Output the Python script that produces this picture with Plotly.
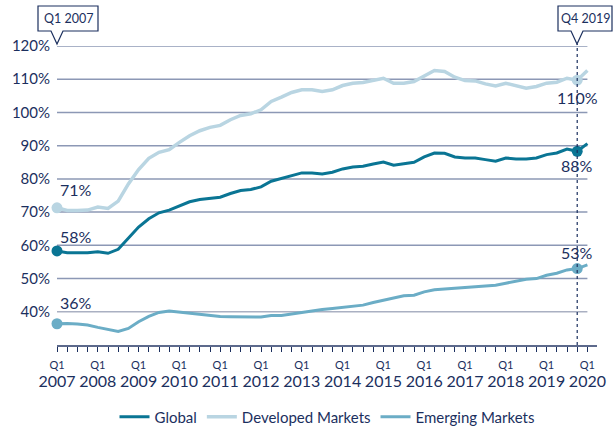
import plotly.graph_objects as go

years = list(range(2007, 2021))
quarters = list(range(53))  # Q1 2007 .. Q1 2020

developed = [71.3, 70.5, 70.5, 70.6, 71.5, 71.1, 73.3, 78.5, 82.8, 86.2,
             88.0, 88.8, 91.0, 93.0, 94.5, 95.5, 96.1, 97.8, 99.1, 99.6,
             100.8, 103.3, 104.6, 106.0, 106.8, 106.8, 106.3, 106.8, 108.1, 108.8,
             109.0, 109.6, 110.3, 108.8, 108.8, 109.3, 111.0, 112.6, 112.3, 110.6,
             109.6, 109.5, 108.6, 108.0, 108.8, 108.0, 107.3, 107.8, 108.8, 109.1,
             110.3, 109.7, 112.6]
global_ = [58.3, 57.8, 57.8, 57.8, 58.1, 57.6, 58.8, 62.2, 65.5, 68.0,
           69.8, 70.6, 71.9, 73.1, 73.8, 74.2, 74.5, 75.6, 76.5, 76.8,
           77.6, 79.3, 80.1, 81.0, 81.8, 81.8, 81.5, 82.0, 83.0, 83.6,
           83.8, 84.5, 85.1, 84.1, 84.6, 85.0, 86.6, 87.8, 87.7, 86.6,
           86.3, 86.3, 85.8, 85.3, 86.3, 86.0, 86.0, 86.3, 87.3, 87.8,
           89.0, 88.3, 90.6]
emerging = [36.4, 36.5, 36.3, 36.0, 35.3, 34.8, 34.1, 35.0, 37.0, 38.6,
            39.8, 40.2, 39.9, 39.6, 39.2, 38.8, 38.6, 38.5, 38.4, 38.4,
            38.4, 38.9, 38.9, 39.3, 39.8, 40.2, 40.7, 41.0, 41.3, 41.7,
            42.0, 42.8, 43.5, 44.0, 44.8, 45.0, 46.0, 46.6, 46.8, 47.1,
            47.4, 47.6, 47.8, 48.0, 48.6, 49.3, 49.8, 50.0, 51.0, 51.6,
            52.6, 53.0, 54.1]
y_ticks = [40, 50, 60, 70, 80, 90, 100, 110, 120]

START, END = 0, 51  # Q1 2007 and Q4 2019 highlight points

NAVY = "#1b2f5e"
C_GLOBAL = "#0a7594"
C_DEV = "#b9d5e2"
C_EM = "#6badc6"
GRID = "#8c98b5"
FONT = "Lato"

fig = go.Figure()
series = [("Global", global_, C_GLOBAL, 3),
          ("Developed Markets", developed, C_DEV, 3.5),
          ("Emerging Markets", emerging, C_EM, 3)]

# gridlines
for v in y_ticks:
    fig.add_shape(type="line", xref="x", yref="y", x0=quarters[0], x1=quarters[-1],
                  y0=v, y1=v, line=dict(color=GRID if v != 40 else "#aab0c2", width=1.5),
                  layer="below")

for name, vals, col, w in series:
    fig.add_trace(go.Scatter(x=quarters, y=vals, mode="lines", name=name,
                             line=dict(color=col, width=w), cliponaxis=False))
    fig.add_trace(go.Scatter(x=[quarters[START], quarters[END]], y=[vals[START], vals[END]],
                             mode="markers", marker=dict(color=col, size=11),
                             showlegend=False, cliponaxis=False, hoverinfo="skip"))

# value labels
label_shift = {"Global": (14, -14), "Developed Markets": (18, -17), "Emerging Markets": (21, 16)}
for name, vals, col, w in series:
    s0, s1 = label_shift[name]
    fig.add_annotation(x=quarters[START], y=vals[START], text=f"{round(vals[START])}%",
                       showarrow=False, xanchor="left", xshift=1, yshift=s0,
                       font=dict(family=FONT, size=16, color=NAVY))
    fig.add_annotation(x=quarters[END], y=vals[END], text=f"{round(vals[END])}%",
                       showarrow=False, xanchor="center", yshift=s1,
                       font=dict(family=FONT, size=16, color=NAVY))

# dotted vertical line at Q4 2019
fig.add_shape(type="line", xref="x", yref="paper", x0=quarters[END], x1=quarters[END],
              y0=0, y1=1.007, line=dict(color=NAVY, width=1.2, dash="dot"))

# callout boxes (paper coordinates)
def px2paper_x(px):
    return (px - 57) / 540.0

def px2paper_y(py):
    return (345 - py) / 299.0

def callout(x0, x1, tipx, text):
    yt, yb, ytip = px2paper_y(6), px2paper_y(31), px2paper_y(44)
    X0, X1 = px2paper_x(x0), px2paper_x(x1)
    TL, TR, TX = px2paper_x(tipx - 6), px2paper_x(tipx + 6), px2paper_x(tipx)
    path = (f"M{X0},{yt} L{X1},{yt} L{X1},{yb} L{TR},{yb} L{TX},{ytip} "
            f"L{TL},{yb} L{X0},{yb} Z")
    fig.add_shape(type="path", xref="paper", yref="paper", path=path,
                  line=dict(color=NAVY, width=1.2), fillcolor="white")
    fig.add_annotation(xref="paper", yref="paper", x=(X0 + X1) / 2, y=(yt + yb) / 2,
                       text=text, showarrow=False, xanchor="center", yanchor="middle",
                       font=dict(family=FONT, size=12.5, color=NAVY))

callout(38, 98, 57, "Q1 2007")
callout(558, 612, 577, "Q4 2019")

tickvals = quarters
ticktext = [f"<span style='font-size:11px'>Q1</span><br><span style='font-size:16px'>{years[q // 4]}</span>"
            if q % 4 == 0 else "" for q in quarters]

fig.update_layout(
    width=613, height=428,
    margin=dict(l=57, r=16, t=46, b=83, autoexpand=False),
    plot_bgcolor="white", paper_bgcolor="white",
    font=dict(family=FONT, color=NAVY),
    xaxis=dict(range=[0, 52.94], tickvals=tickvals, ticktext=ticktext,
               ticks="outside", ticklen=5, tickcolor=NAVY, tickwidth=1,
               showline=True, linecolor="#5d6a8c", linewidth=1.5,
               showgrid=False, zeroline=False, automargin=False,
               tickfont=dict(family=FONT, size=14, color=NAVY)),
    yaxis=dict(range=[30, 120], tickvals=y_ticks, ticktext=[f"{v}%" for v in y_ticks],
               showgrid=False, zeroline=False, ticks="", automargin=False,
               ticklabelstandoff=6,
               tickfont=dict(family=FONT, size=15, color=NAVY)),
    legend=dict(orientation="h", x=0.5, xanchor="center", y=-0.241, yanchor="middle",
                font=dict(family=FONT, size=15, color=NAVY), itemwidth=30),
    showlegend=True,
)

fig.write_html("out.html", config={"displayModeBar": False},
               post_script="document.body.style.margin='0';document.body.style.padding='0';")
